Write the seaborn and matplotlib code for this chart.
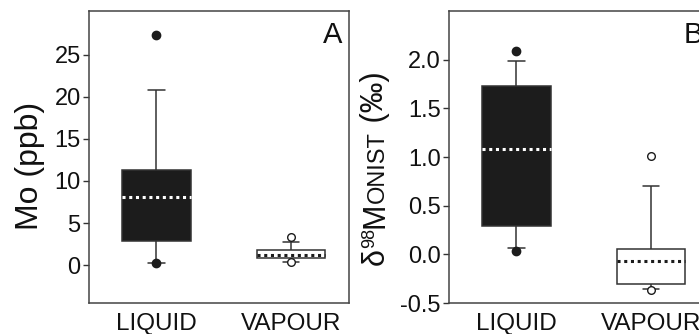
import matplotlib
matplotlib.use("Agg")
import matplotlib.pyplot as plt
import seaborn as sns
import pandas as pd

# Category order on both panels
groups = ["LIQUID", "VAPOUR"]

# Box summaries: lower whisker, Q1, median, Q3, upper whisker
mo_liquid = [0.25, 2.9, 8.1, 11.3, 20.8]
mo_vapour = [0.35, 0.9, 1.25, 1.75, 2.7]
d98_liquid = [0.07, 0.29, 1.08, 1.73, 1.99]
d98_vapour = [-0.36, -0.30, -0.07, 0.055, 0.70]

# Points beyond the whiskers
mo_liquid_out = [27.3, 0.2]
mo_vapour_out = [3.4, 0.4]
d98_liquid_out = [2.09, 0.035]
d98_vapour_out = [1.01, -0.37]

# Axis ticks
mo_ticks = [0, 5, 10, 15, 20, 25]
d98_ticks = [-0.5, 0.0, 0.5, 1.0, 1.5, 2.0]

sns.set_style("ticks")
plt.rcParams["font.family"] = ["Liberation Sans", "DejaVu Sans"]
plt.rcParams["axes.unicode_minus"] = False
plt.rcParams["text.color"] = "#111111"
plt.rcParams["xtick.color"] = "#111111"
plt.rcParams["ytick.color"] = "#111111"

EDGE = "#333333"
FILL = {"LIQUID": "#1c1c1c", "VAPOUR": "white"}
MED = {"LIQUID": "white", "VAPOUR": "#1c1c1c"}
FLIER_FACE = {"LIQUID": "#1c1c1c", "VAPOUR": "white"}

fig = plt.figure(figsize=(6.99, 3.34), dpi=100)
ax_a = fig.add_axes([89 / 699, 31 / 334, 260 / 699, 292 / 334])
ax_b = fig.add_axes([449 / 699, 31 / 334, 260 / 699, 292 / 334])


def draw_panel(ax, boxes, outliers, ylim, ticks, fmt):
    for g in groups:
        df = pd.DataFrame({"group": g, "value": boxes[g]})
        sns.boxplot(
            data=df, x="group", y="value", order=groups, ax=ax,
            whis=(0, 100), width=0.51, color=FILL[g], saturation=1,
            linecolor=EDGE, linewidth=1.1, showfliers=False,
            capwidths=0.125,
            medianprops=dict(color=MED[g], linestyle=(0, (1, 1.2)),
                             linewidth=2.2),
        )
        pts = pd.DataFrame({"group": g, "value": outliers[g]})
        sns.stripplot(
            data=pts, x="group", y="value", order=groups, ax=ax,
            jitter=False, size=6 if g == "LIQUID" else 5.5,
            color=FLIER_FACE[g], edgecolor="#1c1c1c", linewidth=1.0,
            zorder=5,
        )
    ax.set_xlim(-0.5, 1.43)
    ax.set_ylim(*ylim)
    ax.set_yticks(ticks)
    ax.set_yticklabels([fmt.format(t) for t in ticks])
    ax.set_xlabel("")
    ax.set_ylabel("")
    ax.tick_params(axis="y", labelsize=17, length=4, width=1.0,
                   color=EDGE, pad=2)
    ax.tick_params(axis="x", labelsize=17.5, length=0, pad=7)
    for s in ax.spines.values():
        s.set_visible(True)
        s.set_color("#444444")
        s.set_linewidth(1.1)


draw_panel(
    ax_a,
    {"LIQUID": mo_liquid, "VAPOUR": mo_vapour},
    {"LIQUID": mo_liquid_out, "VAPOUR": mo_vapour_out},
    (-4.5, 30.2), mo_ticks, "{:g}",
)
draw_panel(
    ax_b,
    {"LIQUID": d98_liquid, "VAPOUR": d98_vapour},
    {"LIQUID": d98_liquid_out, "VAPOUR": d98_vapour_out},
    (-0.5, 2.5), d98_ticks, "{:.1f}",
)

# Panel letters
ax_a.text(0.975, 0.965, "A", transform=ax_a.transAxes, ha="right",
          va="top", fontsize=21)
ax_b.text(0.975, 0.965, "B", transform=ax_b.transAxes, ha="right",
          va="top", fontsize=21)

# Y label of panel A
ax_a.text(-0.227, 0.47, "Mo (ppb)", transform=ax_a.transAxes,
          rotation=90, ha="center", va="center", fontsize=23)

# Y label of panel B, built piece by piece for the superscript and small caps
big, sup, small = 22, 13, 17
kw = dict(rotation=90, ha="right", va="bottom", textcoords="offset points")
t1 = ax_b.text(-0.225, 0.13, "δ", transform=ax_b.transAxes, rotation=90,
               ha="right", va="bottom", fontsize=big)
t2 = ax_b.annotate("98", xy=(1, 1), xycoords=t1, xytext=(-8.8, 0),
                   fontsize=sup, **kw)
t3 = ax_b.annotate("M", xy=(1, 1), xycoords=t2, xytext=(8.8, 0),
                   fontsize=big, **kw)
t4 = ax_b.annotate("ONIST", xy=(1, 1), xycoords=t3, xytext=(-1.1, 0),
                   fontsize=small, **kw)
t5 = ax_b.annotate(" (‰)", xy=(1, 1), xycoords=t4, xytext=(1.1, 0),
                   fontsize=big, **kw)

fig.savefig("out.png", dpi=100)
